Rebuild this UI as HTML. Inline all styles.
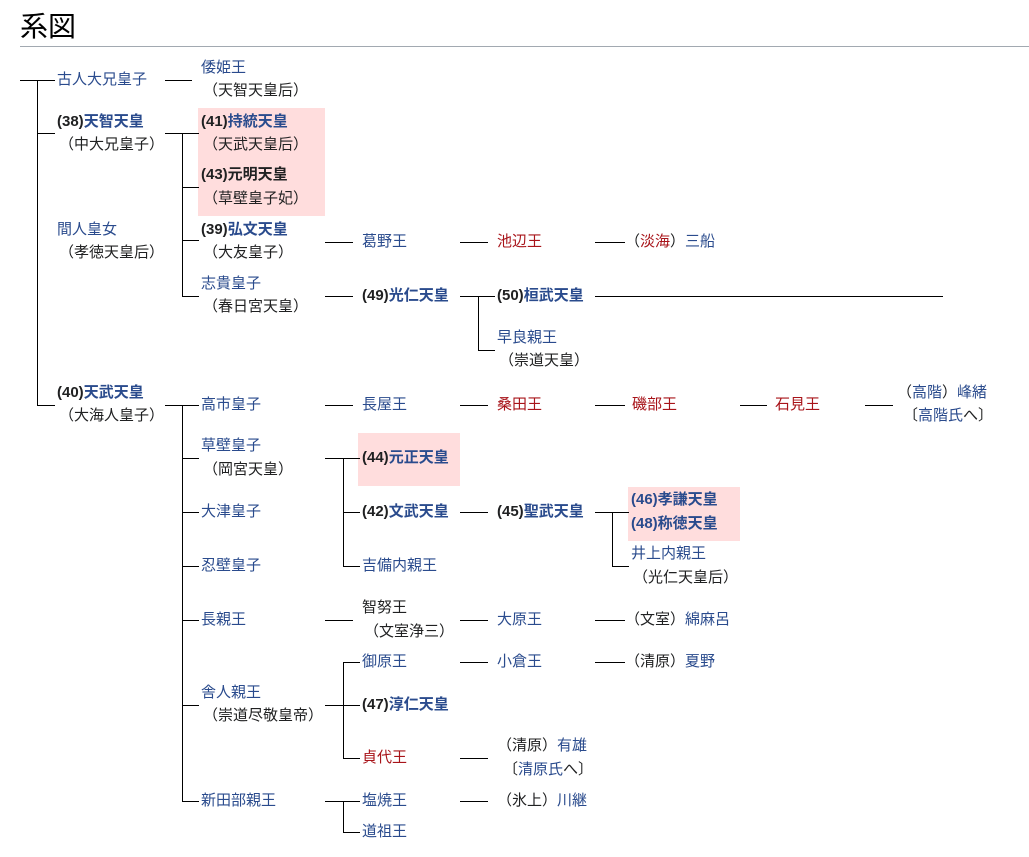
<!DOCTYPE html>
<html><head><meta charset="utf-8"><style>
body{margin:0;width:1029px;height:857px;background:#fff;position:relative;overflow:hidden;font-family:"Liberation Sans","Noto Sans CJK JP",sans-serif;font-size:15px;color:#202122}
.t{position:absolute;line-height:20px;white-space:nowrap}
.b{color:#2a4b8d}.r{color:#a8141a}.k{font-weight:bold}
.h{position:absolute;height:1px;background:#000}
.v{position:absolute;width:1px;background:#000}
.p{position:absolute;background:#ffdddd}
h2{position:absolute;left:20px;top:5px;margin:0;font-weight:normal;font-size:28px;font-family:"Liberation Sans","Noto Sans CJK JP",sans-serif;color:#000}
.rule{position:absolute;left:20px;top:46px;width:1009px;height:1px;background:#a2a9b1}
</style></head><body>
<h2>系図</h2><div class="rule"></div>
<div class="p" style="left:198px;top:108px;width:127px;height:108px"></div>
<div class="p" style="left:358px;top:433px;width:102px;height:53px"></div>
<div class="p" style="left:628px;top:487px;width:112px;height:54px"></div>

<div class="h" style="left:20px;top:80px;width:35px"></div>
<div class="v" style="left:37px;top:80px;height:325px"></div>
<div class="h" style="left:37px;top:133px;width:18px"></div>
<div class="h" style="left:37px;top:405px;width:18px"></div>

<div class="t b" style="left:57px;top:70px">古人大兄皇子</div>
<div class="h" style="left:165px;top:80px;width:27px"></div>
<div class="t b" style="left:201px;top:58px">倭姫王</div>
<div class="t" style="left:203px;top:81px">（天智天皇后）</div>

<div class="t k" style="left:57px;top:112px">(38)<span class="b">天智天皇</span></div>
<div class="t" style="left:59px;top:135px">（中大兄皇子）</div>
<div class="t b" style="left:57px;top:220px">間人皇女</div>
<div class="t" style="left:59px;top:243px">（孝徳天皇后）</div>
<div class="h" style="left:165px;top:133px;width:17px"></div>
<div class="v" style="left:182px;top:133px;height:164px"></div>
<div class="h" style="left:182px;top:133px;width:17px"></div>
<div class="h" style="left:182px;top:187px;width:17px"></div>
<div class="h" style="left:182px;top:240px;width:17px"></div>
<div class="h" style="left:182px;top:296px;width:17px"></div>
<div class="t k" style="left:201px;top:112px">(41)<span class="b">持統天皇</span></div>
<div class="t" style="left:203px;top:135px">（天武天皇后）</div>
<div class="t k" style="left:201px;top:165px">(43)元明天皇</div>
<div class="t" style="left:203px;top:189px">（草壁皇子妃）</div>
<div class="t k" style="left:201px;top:220px">(39)<span class="b">弘文天皇</span></div>
<div class="t" style="left:203px;top:243px">（大友皇子）</div>
<div class="h" style="left:325px;top:242px;width:28px"></div>
<div class="t b" style="left:362px;top:232px">葛野王</div>
<div class="h" style="left:460px;top:242px;width:28px"></div>
<div class="t r" style="left:497px;top:232px">池辺王</div>
<div class="h" style="left:595px;top:242px;width:30px"></div>
<div class="t" style="left:625px;top:232px">（<span class="r">淡海</span>）<span class="b">三船</span></div>
<div class="t b" style="left:201px;top:274px">志貴皇子</div>
<div class="t" style="left:203px;top:297px">（春日宮天皇）</div>
<div class="h" style="left:325px;top:296px;width:28px"></div>
<div class="t k" style="left:362px;top:286px">(49)<span class="b">光仁天皇</span></div>
<div class="h" style="left:460px;top:296px;width:18px"></div>
<div class="v" style="left:478px;top:296px;height:55px"></div>
<div class="h" style="left:478px;top:296px;width:17px"></div>
<div class="h" style="left:478px;top:350px;width:17px"></div>
<div class="t k" style="left:497px;top:286px">(50)<span class="b">桓武天皇</span></div>
<div class="h" style="left:595px;top:296px;width:348px"></div>
<div class="t b" style="left:497px;top:328px">早良親王</div>
<div class="t" style="left:499px;top:351px">（崇道天皇）</div>

<div class="t k" style="left:57px;top:383px">(40)<span class="b">天武天皇</span></div>
<div class="t" style="left:59px;top:406px">（大海人皇子）</div>
<div class="h" style="left:165px;top:405px;width:17px"></div>
<div class="v" style="left:182px;top:405px;height:397px"></div>
<div class="h" style="left:182px;top:405px;width:17px"></div>
<div class="h" style="left:182px;top:458px;width:17px"></div>
<div class="h" style="left:182px;top:512px;width:17px"></div>
<div class="h" style="left:182px;top:566px;width:17px"></div>
<div class="h" style="left:182px;top:620px;width:17px"></div>
<div class="h" style="left:182px;top:705px;width:17px"></div>
<div class="h" style="left:182px;top:801px;width:17px"></div>

<div class="t b" style="left:201px;top:395px">高市皇子</div>
<div class="h" style="left:325px;top:405px;width:28px"></div>
<div class="t b" style="left:362px;top:395px">長屋王</div>
<div class="h" style="left:460px;top:405px;width:28px"></div>
<div class="t r" style="left:497px;top:395px">桑田王</div>
<div class="h" style="left:595px;top:405px;width:30px"></div>
<div class="t r" style="left:632px;top:395px">磯部王</div>
<div class="h" style="left:740px;top:405px;width:27px"></div>
<div class="t r" style="left:775px;top:395px">石見王</div>
<div class="h" style="left:865px;top:405px;width:28px"></div>
<div class="t" style="left:897px;top:383px">（<span class="b">高階</span>）<span class="b">峰緒</span></div>
<div class="t" style="left:903px;top:406px">〔<span class="b">高階氏</span>へ〕</div>

<div class="t b" style="left:201px;top:436px">草壁皇子</div>
<div class="t" style="left:203px;top:460px">（岡宮天皇）</div>
<div class="h" style="left:325px;top:458px;width:18px"></div>
<div class="v" style="left:343px;top:458px;height:109px"></div>
<div class="h" style="left:343px;top:458px;width:17px"></div>
<div class="h" style="left:343px;top:512px;width:17px"></div>
<div class="h" style="left:343px;top:566px;width:17px"></div>
<div class="t k" style="left:362px;top:448px">(44)<span class="b">元正天皇</span></div>
<div class="t k" style="left:362px;top:502px">(42)<span class="b">文武天皇</span></div>
<div class="h" style="left:460px;top:512px;width:28px"></div>
<div class="t k" style="left:497px;top:502px">(45)<span class="b">聖武天皇</span></div>
<div class="h" style="left:595px;top:512px;width:17px"></div>
<div class="v" style="left:612px;top:512px;height:55px"></div>
<div class="h" style="left:612px;top:512px;width:17px"></div>
<div class="h" style="left:612px;top:566px;width:17px"></div>
<div class="t k b" style="left:631px;top:490px">(46)孝謙天皇</div>
<div class="t k b" style="left:631px;top:514px">(48)称徳天皇</div>
<div class="t b" style="left:631px;top:544px">井上内親王</div>
<div class="t" style="left:633px;top:568px">（光仁天皇后）</div>
<div class="t b" style="left:362px;top:556px">吉備内親王</div>
<div class="t b" style="left:201px;top:502px">大津皇子</div>
<div class="t b" style="left:201px;top:556px">忍壁皇子</div>

<div class="t b" style="left:201px;top:610px">長親王</div>
<div class="h" style="left:325px;top:620px;width:28px"></div>
<div class="t" style="left:362px;top:598px">智努王</div>
<div class="t" style="left:364px;top:622px">（文室浄三）</div>
<div class="h" style="left:460px;top:620px;width:28px"></div>
<div class="t b" style="left:497px;top:610px">大原王</div>
<div class="h" style="left:595px;top:620px;width:30px"></div>
<div class="t" style="left:625px;top:610px">（文室）<span class="b">綿麻呂</span></div>

<div class="t b" style="left:201px;top:683px">舎人親王</div>
<div class="t" style="left:203px;top:706px">（崇道尽敬皇帝）</div>
<div class="h" style="left:325px;top:705px;width:18px"></div>
<div class="v" style="left:343px;top:662px;height:97px"></div>
<div class="h" style="left:343px;top:662px;width:17px"></div>
<div class="h" style="left:343px;top:705px;width:17px"></div>
<div class="h" style="left:343px;top:758px;width:17px"></div>
<div class="t b" style="left:362px;top:652px">御原王</div>
<div class="h" style="left:460px;top:662px;width:28px"></div>
<div class="t b" style="left:497px;top:652px">小倉王</div>
<div class="h" style="left:595px;top:662px;width:30px"></div>
<div class="t" style="left:625px;top:652px">（清原）<span class="b">夏野</span></div>
<div class="t k" style="left:362px;top:695px">(47)<span class="b">淳仁天皇</span></div>
<div class="t r" style="left:362px;top:748px">貞代王</div>
<div class="h" style="left:460px;top:758px;width:28px"></div>
<div class="t" style="left:497px;top:736px">（清原）<span class="b">有雄</span></div>
<div class="t" style="left:503px;top:760px">〔<span class="b">清原氏</span>へ〕</div>

<div class="t b" style="left:201px;top:791px">新田部親王</div>
<div class="h" style="left:325px;top:801px;width:18px"></div>
<div class="v" style="left:343px;top:801px;height:32px"></div>
<div class="h" style="left:343px;top:801px;width:17px"></div>
<div class="h" style="left:343px;top:832px;width:17px"></div>
<div class="t b" style="left:362px;top:791px">塩焼王</div>
<div class="h" style="left:460px;top:801px;width:28px"></div>
<div class="t" style="left:497px;top:791px">（氷上）<span class="b">川継</span></div>
<div class="t b" style="left:362px;top:822px">道祖王</div>
</body></html>
